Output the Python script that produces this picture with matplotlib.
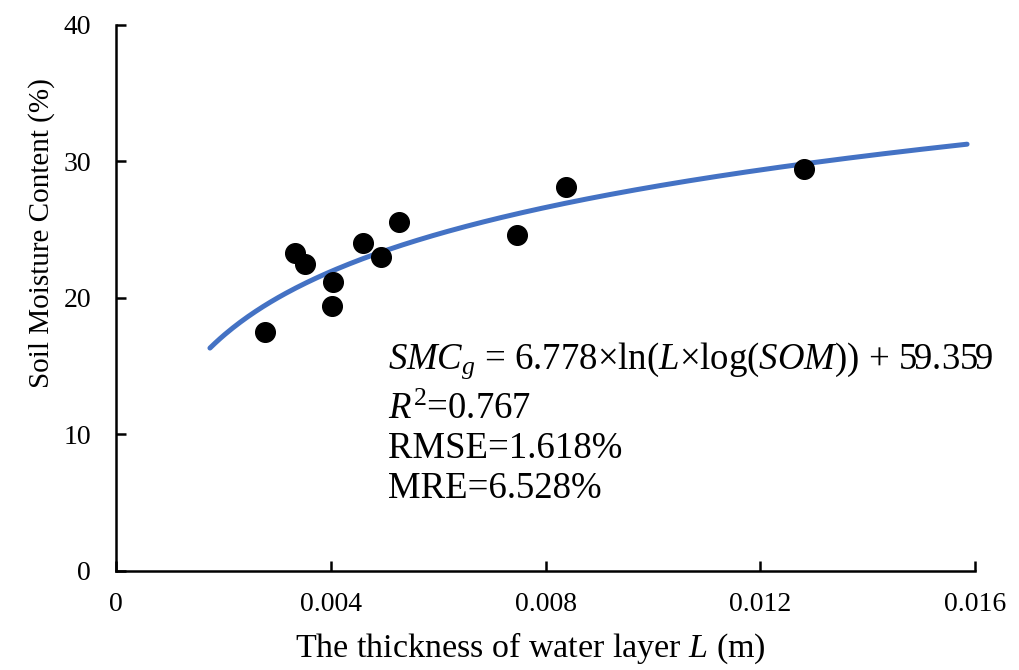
import numpy as np
import matplotlib
matplotlib.use("Agg")
import matplotlib.pyplot as plt

plt.rcParams['font.family'] = ['Liberation Serif', 'DejaVu Serif']
plt.rcParams['mathtext.fontset'] = 'custom'
plt.rcParams['mathtext.rm'] = 'Liberation Serif'
plt.rcParams['mathtext.it'] = 'Liberation Serif:italic'

# Measured water layer thickness (m) and soil moisture content (%)
water_layer = [0.00277, 0.00334, 0.00352, 0.00404, 0.00403, 0.00460,
               0.00493, 0.00528, 0.00747, 0.00838, 0.01282]
moisture = [17.5, 23.3, 22.5, 21.15, 19.4, 24.0, 23.0, 25.6, 24.6, 28.1, 29.45]

# Logarithmic fit coefficients
fit_a = 6.778
fit_b = 59.359
fit_range = (0.00175, 0.01585)

x_ticks = [0, 0.004, 0.008, 0.012, 0.016]
x_tick_labels = ['0', '0.004', '0.008', '0.012', '0.016']
y_ticks = [0, 10, 20, 30, 40]

fig = plt.figure(figsize=(10.2, 6.7), dpi=100)
ax = fig.add_axes([0.1137, 0.1478, 0.956 - 0.1137, 0.9627 - 0.1478])

xf = np.linspace(fit_range[0], fit_range[1], 300)
ax.plot(xf, fit_a * np.log(xf) + fit_b, color='#4472C4', lw=3.6,
        solid_capstyle='round', zorder=2)
ax.scatter(water_layer, moisture, s=200, color='black', zorder=3)

ax.set_xlim(0, 0.016)
ax.set_ylim(0, 40)
ax.set_xticks(x_ticks)
ax.set_xticklabels(x_tick_labels)
ax.set_yticks(y_ticks)
ax.tick_params(direction='in', length=7, width=1.8, labelsize=20)
ax.tick_params(axis='y', pad=18)
ax.tick_params(axis='x', pad=15)
for side in ['top', 'right']:
    ax.spines[side].set_visible(False)
for side in ['left', 'bottom']:
    ax.spines[side].set_linewidth(1.8)

ax.set_xlabel(r'The thickness of water layer $L$ (m)', fontsize=24.5, labelpad=10)
ax.set_ylabel('Soil Moisture Content (%)', fontsize=21, labelpad=6)
ax.xaxis.label.set_x(0.482)
ax.yaxis.label.set_y(0.619)

text_lines = [
    r'$SMC_g$ = 6.778×ln($L$×log($SOM$)) + 59.359',
    r'$R^2$=0.767',
    'RMSE=1.618%',
    'MRE=6.528%',
]
baselines = [14.80, 11.14, 8.28, 5.35]
for t, yv in zip(text_lines, baselines):
    ax.text(0.00507, yv, t, fontsize=26.5, va='baseline', ha='left')

fig.savefig('out.png', dpi=100)
